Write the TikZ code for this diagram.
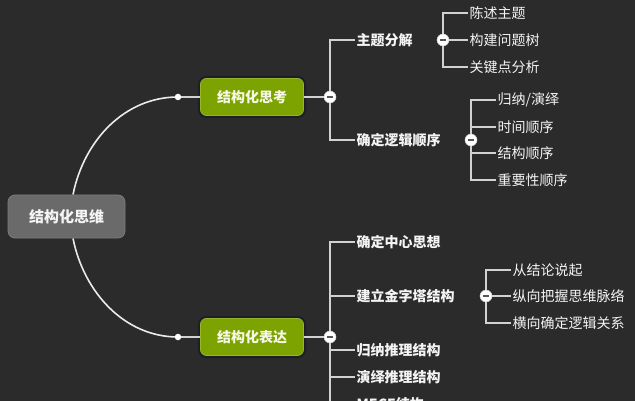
\documentclass[tikz,border=0pt]{standalone}
\usepackage{fontspec}
\setmainfont{Noto Sans CJK SC}
\usetikzlibrary{positioning}
\definecolor{bgc}{HTML}{2B2B2B}
\definecolor{linec}{HTML}{D2D2D2}
\definecolor{rootc}{HTML}{6A6A6A}
\definecolor{rootb}{HTML}{7C7C7C}
\definecolor{greenc}{HTML}{7CA300}
\definecolor{greenb}{HTML}{93B62A}
\definecolor{shadowc}{HTML}{1E1E2A}
\definecolor{txt}{HTML}{F4F4F4}
\pgfdeclarelayer{bg}
\pgfdeclarelayer{lines}
\pgfsetlayers{bg,lines,main}
\tikzset{
  rootbox/.style={rectangle, rounded corners=7pt, fill=rootc, draw=rootb, line width=0.8pt,
    minimum width=117pt, minimum height=43pt, inner sep=0pt, text=txt,
    font=\fontsize{15}{17}\selectfont\bfseries},
  gbox/.style={rectangle, rounded corners=6pt, fill=greenc, draw=greenb, line width=0.8pt,
    minimum width=103pt, minimum height=37pt, inner sep=0pt, text={rgb,255:red,246;green,248;blue,228},
    font=\fontsize{14}{16}\selectfont\bfseries},
  gshadow/.style={rectangle, rounded corners=8pt, fill=shadowc, minimum width=108pt, minimum height=42pt, inner sep=0pt},
  topic/.style={anchor=west, inner sep=1.5pt, text=txt, font=\fontsize{14}{16}\selectfont\bfseries},
  leaf/.style={anchor=west, inner sep=1.5pt, text=txt, font=\fontsize{14}{16}\selectfont},
  dotn/.style={circle, fill=white, minimum size=6.5pt, inner sep=0pt},
  col/.style={circle, fill=white, draw=linec, line width=0.5pt, minimum size=12pt, inner sep=0pt,
    path picture={\draw[bgc!80!white, line width=1.6pt] ([xshift=-3pt]path picture bounding box.center) -- ([xshift=3pt]path picture bounding box.center);}},
  link/.style={draw=linec, line width=1.3pt},
  curve/.style={draw=white!92!black, line width=1.6pt},
}
\begin{document}
\begin{tikzpicture}[x=1pt,y=-1pt]
\useasboundingbox (0,0) rectangle (635,401);
\begin{pgfonlayer}{bg}
\fill[bgc] (0,0) rectangle (635,401);
\end{pgfonlayer}

% central and main branches
\node[rootbox] (root) at (66.5,216.5) {结构化思维};
\begin{pgfonlayer}{bg}
\node[gshadow] (g1s) at (252,97) {};
\node[gshadow] (g2s) at (252,337) {};
\end{pgfonlayer}
\node[gbox] (g1) at (252,97) {结构化思考};
\node[gbox] (g2) at (252,337) {结构化表达};
\node[dotn] (d1) at (178,97) {};
\node[dotn] (d2) at (178,337) {};
\coordinate (rt) at ([xshift=6.5pt]root.north);
\coordinate (rb) at ([xshift=6.5pt]root.south);

% collapse buttons
\node[col] (c1) at (330,97) {};
\node[col] (c1a) at (443,40) {};
\node[col] (c1b) at (471,140) {};
\node[col] (c2) at (330,337) {};
\node[col] (c2a) at (486,296) {};

% branch 1
\node[topic] (t11) at (355,40) {主题分解};
\node[topic] (t12) at (355,140) {确定逻辑顺序};
\node[leaf] (l111) at (468,13) {陈述主题};
\node[leaf] (l112) at (468,40) {构建问题树};
\node[leaf] (l113) at (468,67) {关键点分析};
\node[leaf] (l121) at (496,100) {归纳/演绎};
\node[leaf] (l122) at (496,127) {时间顺序};
\node[leaf] (l123) at (496,153) {结构顺序};
\node[leaf] (l124) at (496,180) {重要性顺序};

% branch 2
\node[topic] (t21) at (355,242) {确定中心思想};
\node[topic] (t22) at (355,296) {建立金字塔结构};
\node[topic] (t23) at (355,350) {归纳推理结构};
\node[topic] (t24) at (355,377) {演绎推理结构};
\node[topic] (t25) at (355,404) {MECE结构};
\node[leaf] (l221) at (511,270) {从结论说起};
\node[leaf] (l222) at (511,296) {纵向把握思维脉络};
\node[leaf] (l223) at (511,323) {横向确定逻辑关系};

\begin{pgfonlayer}{lines}
\draw[curve] (rt) .. controls (84,140) and (125,97) .. (d1.center);
\draw[curve] (rb) .. controls (84,293) and (125,337) .. (d2.center);
\draw[link] (d1.center) -- (g1.west);
\draw[link] (d2.center) -- (g2.west);
\draw[link] (g1.east) -- (c1.center);
\draw[link] (g2.east) -- (c2.center);
\foreach \t in {t11,t12} \draw[link] (c1.center) |- (\t.west);
\foreach \t in {l111,l112,l113} \draw[link] (c1a.center) |- (\t.west);
\foreach \t in {l121,l122,l123,l124} \draw[link] (c1b.center) |- (\t.west);
\foreach \t in {t21,t22,t23,t24,t25} \draw[link] (c2.center) |- (\t.west);
\foreach \t in {l221,l222,l223} \draw[link] (c2a.center) |- (\t.west);
\end{pgfonlayer}
\end{tikzpicture}
\end{document}
